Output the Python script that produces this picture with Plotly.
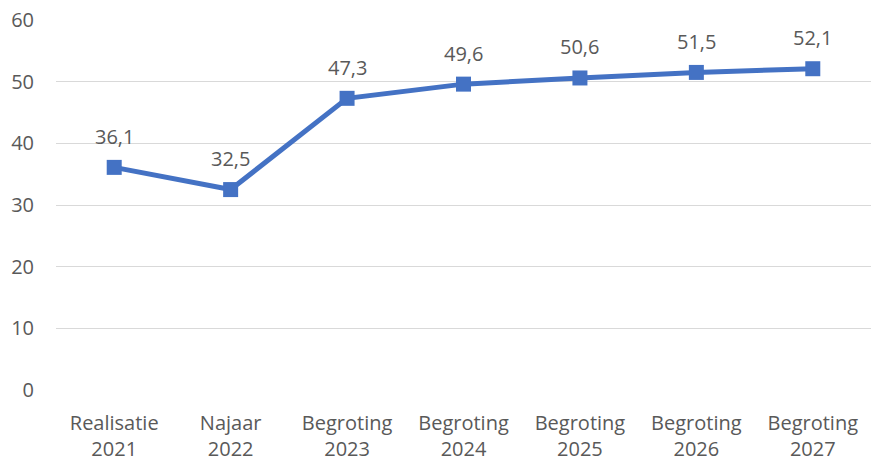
import plotly.graph_objects as go

categories = ["Realisatie<br>2021", "Najaar<br>2022", "Begroting<br>2023", "Begroting<br>2024",
              "Begroting<br>2025", "Begroting<br>2026", "Begroting<br>2027"]
values = [36.1, 32.5, 47.3, 49.6, 50.6, 51.5, 52.1]
labels = ["36,1", "32,5", "47,3", "49,6", "50,6", "51,5", "52,1"]
y_ticks = [0, 10, 20, 30, 40, 50, 60]

font_fam = "Open Sans"
grey = "#595959"
blue = "#4472C4"

fig = go.Figure()
fig.add_trace(go.Scatter(
    x=categories, y=values, mode="lines+markers",
    line=dict(color=blue, width=5),
    marker=dict(symbol="square", size=15, color=blue),
    hoverinfo="skip", cliponaxis=False,
))
for c, v, t in zip(categories, values, labels):
    fig.add_annotation(x=c, y=v, text=t, showarrow=False, yshift=31,
                       font=dict(family=font_fam, size=20, color=grey))

fig.update_layout(
    width=871, height=461,
    margin=dict(l=56, r=0, t=20, b=71),
    plot_bgcolor="white", paper_bgcolor="white",
    showlegend=False,
    font=dict(family=font_fam, size=20, color=grey),
)
fig.update_xaxes(showgrid=False, showline=False, ticks="", tickfont=dict(size=20, color=grey),
                 range=[-0.5, 6.5], automargin=False, ticklabelstandoff=19,
                 ticklabeloverflow="allow")
fig.update_yaxes(range=[0, 60], tickvals=y_ticks, showgrid=True, gridcolor="#D9D9D9", gridwidth=1.3,
                 zeroline=False, showline=False, tickfont=dict(size=20, color=grey),
                 ticklabelstandoff=21, automargin=False, ticklabeloverflow="allow")
fig.write_html("out.html", config={"displayModeBar": False},
               post_script="document.body.style.margin='0px';")
